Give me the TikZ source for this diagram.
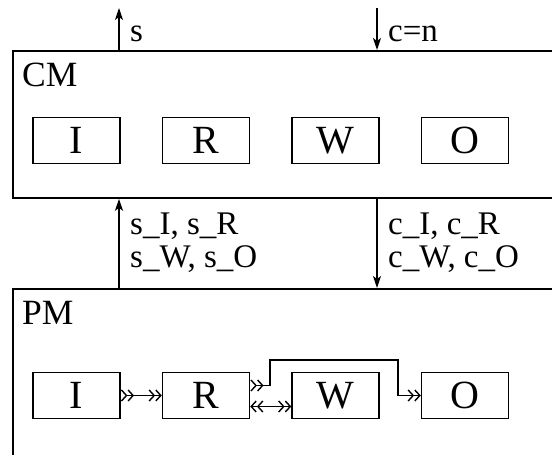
\documentclass[tikz,border=0pt]{standalone}
\usepackage{fontspec}
\setmainfont{Liberation Serif}
\usetikzlibrary{arrows.meta,positioning}

\tikzset{
  frame/.style={draw, line width=1.8pt, anchor=north west, inner sep=0pt},
  unit/.style={draw, line width=1.5pt, minimum width=87pt, minimum height=46pt, inner sep=0pt, font=\fontsize{40}{40}\selectfont},
  tag/.style={anchor=base west, inner sep=0pt, font=\fontsize{35.5}{35.5}\selectfont},
  lbl/.style={anchor=base west, inner sep=0pt, align=left, font=\fontsize{33}{33}\selectfont},
  sig/.style={line width=1.4pt, -{Stealth[length=12pt,width=8pt,inset=3pt]}},
  flow/.style={line width=1.4pt, >={Straight Barb[length=5pt,width=11pt]}},
}

\begin{document}
\begin{tikzpicture}[x=1pt, y=1pt]
    \useasboundingbox (0,0) rectangle (552,455);

    % CM
    \node[frame, minimum width=600pt, minimum height=147pt] (cm) at (12,405) {};
    \node[tag] (cmTag) at (22,368) {CM};
    \node[unit] (cmI) at (76.5,314.5) {I};
    \node[unit, right=41pt of cmI] (cmR) {R};
    \node[unit, right=41pt of cmR] (cmW) {W};
    \node[unit, right=41pt of cmW] (cmO) {O};

    % PM
    \node[frame, minimum width=600pt, minimum height=200pt] (pm) at (12,167) {};
    \node[tag] (pmTag) at (22,130) {PM};
    \node[unit] (pmI) at (76.5,59.5) {I};
    \node[unit, right=41pt of pmI] (pmR) {R};
    \node[unit, right=41pt of pmR] (pmW) {W};
    \node[unit, right=41pt of pmW] (pmO) {O};

    % outside signals
    \coordinate (sOut) at (119,447);
    \coordinate (cIn) at (377,447);
    \draw[sig] (cm.north -| sOut) -- (sOut);
    \draw[sig] (cIn) -- (cm.north -| cIn);
    \node[lbl] (sLbl) at (130,413) {s};
    \node[lbl] (cLbl) at (388,413) {c=n};

    % CM <-> PM
    \draw[sig] (pm.north -| sOut) -- (cm.south -| sOut);
    \draw[sig] (cm.south -| cIn) -- (pm.north -| cIn);
    \node[lbl] (sAll) at (130,187) {s\_I, s\_R\\s\_W, s\_O};
    \node[lbl] (cAll) at (388,187) {c\_I, c\_R\\c\_W, c\_O};

    % PM flows
    \coordinate (hopL) at (270,95);
    \coordinate (hopR) at (398,95);
    \draw[flow, >>->>] (pmI.east) -- (pmR.west);
    \draw[flow, <<->>] ([yshift=-11pt]pmR.east) -- ([yshift=-11pt]pmW.west);
    \draw[flow, >>->>] ([yshift=10pt]pmR.east) -| (hopL) -- (hopR) |- (pmO.west);
\end{tikzpicture}
\end{document}
